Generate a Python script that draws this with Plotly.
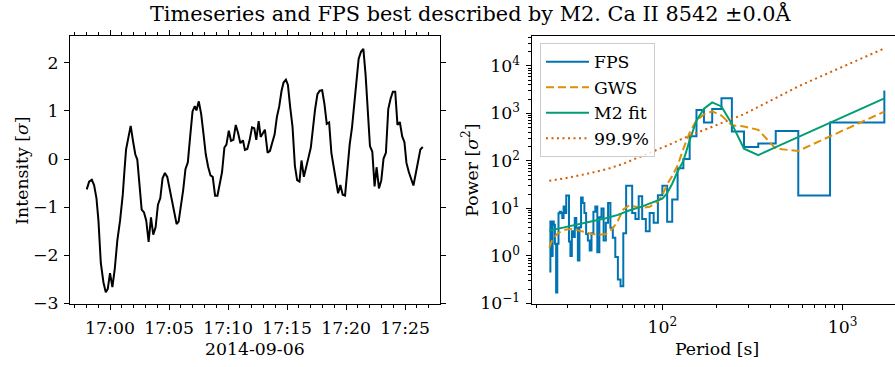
import pandas as pd
import plotly.graph_objects as go

# ---------------- data ----------------
# time series: minutes after 17:00 on 2014-09-06, intensity in sigma
time_min = [-1.97, -1.77, -1.54, -1.35, -1.15, -0.98, -0.78, -0.56, -0.36, -0.19,
            0.00, 0.20, 0.40, 0.62, 0.85, 1.08, 1.22, 1.36, 1.55, 1.75,
            1.95, 2.14, 2.31, 2.48, 2.68, 2.88, 3.07, 3.27, 3.47, 3.66,
            3.86, 4.06, 4.26, 4.45, 4.65, 4.85, 5.04, 5.24, 5.44, 5.64,
            5.81, 6.00, 6.20, 6.39, 6.59, 6.79, 6.99, 7.18, 7.32, 7.52,
            7.72, 7.91, 8.11, 8.31, 8.51, 8.70, 8.90, 9.10, 9.30, 9.49,
            9.69, 9.86, 10.06, 10.25, 10.45, 10.65, 10.85, 11.04, 11.26, 11.43,
            11.63, 11.83, 12.03, 12.22, 12.39, 12.59, 12.76, 12.93, 13.12, 13.35,
            13.55, 13.74, 13.94, 14.14, 14.33, 14.53, 14.70, 14.90, 15.07, 15.26,
            15.46, 15.66, 15.85, 16.05, 16.22, 16.42, 16.61, 16.81, 17.01, 17.18,
            17.37, 17.57, 17.77, 17.97, 18.16, 18.36, 18.56, 18.75, 18.95, 19.15,
            19.32, 19.51, 19.71, 19.91, 20.10, 20.30, 20.50, 20.69, 20.89, 21.06,
            21.26, 21.46, 21.65, 21.85, 22.02, 22.22, 22.41, 22.58, 22.78, 22.98,
            23.17, 23.37, 23.57, 23.76, 23.96, 24.16, 24.35, 24.55, 24.75, 24.94,
            25.11, 25.31, 25.51, 25.70, 25.90, 26.10, 26.29, 26.49]
intensity = [-0.63, -0.47, -0.43, -0.54, -0.81, -1.28, -2.16, -2.56, -2.77, -2.70,
             -2.37, -2.66, -2.29, -1.69, -1.28, -0.74, -0.25, 0.20, 0.44, 0.69,
             0.37, 0.10, -0.01, -0.54, -1.05, -1.11, -1.28, -1.72, -1.21, -1.57,
             -1.42, -0.95, -0.81, -0.40, -0.29, -0.37, -0.61, -0.84, -1.05, -1.35,
             -1.30, -1.01, -0.64, -0.21, -0.07, 0.47, 0.99, 1.10, 1.01, 1.20,
             0.94, 0.54, 0.10, -0.16, -0.34, -0.37, -0.76, -0.76, -0.51, -0.27,
             0.24, 0.30, 0.59, 0.38, 0.40, 0.71, 0.54, 0.33, 0.39, 0.19,
             0.21, 0.40, 0.66, 0.64, 0.40, 0.79, 0.46, 0.52, 0.61, 0.13,
             0.17, 0.34, 0.51, 0.88, 1.09, 1.42, 1.59, 1.65, 1.54, 1.08,
             0.67, -0.14, -0.44, -0.47, -0.03, -0.37, -0.20, 0.03, 0.24, 0.67,
             1.03, 1.35, 1.42, 1.43, 1.15, 0.73, 0.76, 0.13, -0.14, -0.44,
             -0.71, -0.54, -0.74, -0.76, -0.20, 0.30, 0.66, 1.13, 1.55, 2.08,
             2.23, 2.29, 1.75, 0.94, 0.27, 0.15, -0.57, -0.17, -0.61, -0.44,
             0.01, 0.13, 1.04, 1.25, 1.40, 1.40, 0.71, 0.77, 0.47, 0.35,
             -0.08, -0.27, -0.40, -0.55, -0.30, 0.00, 0.20, 0.25]

# Fourier power spectrum (period in s, power in sigma^2)
fps_period = [23.64, 23.97, 24.31, 24.67, 25.03, 25.40, 25.79, 26.18, 26.59, 27.02,
              27.45, 27.90, 28.37, 28.85, 29.34, 29.86, 30.39, 30.95, 31.52, 32.11,
              32.73, 33.37, 34.04, 34.73, 35.46, 36.21, 37.00, 37.82, 38.68, 39.58,
              40.52, 41.51, 42.55, 43.64, 44.79, 46.00, 47.28, 48.63, 50.06, 51.58,
              53.19, 54.90, 56.73, 58.69, 60.79, 63.04, 65.46, 68.08, 70.92, 74.00,
              77.36, 81.05, 85.10, 89.58, 94.56, 100.1, 106.4, 113.5, 121.6, 130.9,
              141.8, 154.7, 170.2, 189.1, 212.8, 243.1, 283.7, 340.4, 425.5, 567.3,
              851.0, 1702.0]
fps_power = [0.47, 5.3, 1.0, 5.3, 4.5, 1.8, 0.17, 1.8, 7.9, 8.5,
             8.0, 6.3, 11.0, 8.0, 18.7, 18.7, 2.0, 1.0, 3.3, 2.5,
             6.3, 3.9, 0.8, 4.0, 17.0, 13.0, 8.0, 2.9, 2.1, 1.3,
             3.0, 8.5, 11.0, 1.2, 6.5, 10.0, 2.1, 5.0, 13.0, 3.9,
             2.4, 0.95, 0.32, 0.23, 3.0, 30.0, 30.0, 8.0, 6.0, 18.0,
             6.0, 3.3, 8.0, 5.0, 19.0, 30.0, 5.2, 15.3, 70.0, 110.0,
             330.0, 1180.0, 640.0, 1236.0, 2075.0, 413.0, 197.0, 231.0, 427.0, 18.7,
             640.0, 3020.0]

# global wavelet spectrum
gws_period = [23.64, 24.31, 25.03, 26.18, 27.45, 29.34, 31.52, 34.04, 37.00, 40.52,
              44.79, 48.63, 53.19, 56.73, 60.79, 65.46, 70.92, 77.36, 85.10, 94.56,
              100.1, 106.4, 113.5, 121.6, 130.9, 141.8, 154.7, 170.2, 189.1, 212.8,
              243.1, 283.7, 340.4, 425.5, 567.3, 851.0, 1702.0]
gws_power = [1.5, 2.0, 2.4, 2.9, 3.3, 3.6, 3.7, 3.5, 3.2, 2.9,
             2.8, 2.9, 3.8, 5.5, 9.5, 11.5, 11.0, 10.3, 10.8, 14.0,
             19.0, 32.0, 48.0, 80.0, 180.0, 390.0, 710.0, 950.0, 1100.0, 900.0,
             560.0, 530.0, 450.0, 180.0, 162.0, 326.0, 1090.0]

# M2 model fit
m2_period = [23.64, 26.18, 29.34, 34.04, 40.52, 48.63, 56.73, 65.46, 77.36, 89.58,
             100.1, 106.4, 113.5, 121.6, 130.9, 141.8, 154.7, 170.2, 189.1, 212.8,
             243.1, 283.7, 340.4, 425.5, 567.3, 851.0, 1702.0]
m2_power = [3.4, 3.7, 4.0, 4.5, 5.2, 6.2, 7.3, 9.0, 11.0, 13.5,
            16.0, 21.0, 33.0, 60.0, 100.0, 270.0, 700.0, 1250.0, 1700.0, 1400.0,
            600.0, 180.0, 132.0, 195.0, 316.0, 632.0, 2075.0]

# 99.9% confidence level
sig_period = [23.64, 29.86, 40.52, 50.06, 60.79, 70.92, 81.05, 100.1, 113.5, 130.9,
              170.2, 243.1, 283.7, 425.5, 567.3, 851.0, 1702.0]
sig_power = [38.0, 44.0, 56.0, 68.0, 87.0, 110.0, 135.0, 190.0, 232.0, 300.0,
             450.0, 760.0, 960.0, 2100.0, 3700.0, 7300.0, 23300.0]

y_ticks_left = [-3, -2, -1, 0, 1, 2]
power_ticks = [0.1, 1, 10, 100, 1000, 10000]
power_ticktext = ["10<sup>\u22121</sup>", "10<sup>0</sup>", "10<sup>1</sup>",
                  "10<sup>2</sup>", "10<sup>3</sup>", "10<sup>4</sup>"]
period_ticks = [100, 1000]
period_ticktext = ["10<sup>2</sup>", "10<sup>3</sup>"]

# ---------------- figure ----------------
W, H = 895, 367
FONT = "DejaVu Serif"
FS = 17.3
t0 = pd.Timestamp("2014-09-06 17:00:00")
times = [t0 + pd.Timedelta(minutes=m) for m in time_min]

def px(x):
    return x / W

def py(y):
    return 1 - y / H

ydom = [py(312.0), py(37.3)]

fig = go.Figure()
fig.add_trace(go.Scatter(x=times, y=intensity, mode="lines",
                         line=dict(color="black", width=2),
                         showlegend=False, xaxis="x", yaxis="y"))
fig.add_trace(go.Scatter(x=fps_period, y=fps_power, mode="lines", name="FPS",
                         line=dict(color="#0173B2", width=2, shape="hv"),
                         xaxis="x2", yaxis="y2", legendgroup="a"))
fig.add_trace(go.Scatter(x=gws_period, y=gws_power, mode="lines", name="GWS",
                         line=dict(color="#DE8F05", width=2, dash="8px,4px"),
                         xaxis="x2", yaxis="y2", legendgroup="b"))
fig.add_trace(go.Scatter(x=m2_period, y=m2_power, mode="lines", name="M2 fit",
                         line=dict(color="#029E73", width=2),
                         xaxis="x2", yaxis="y2", legendgroup="c"))
fig.add_trace(go.Scatter(x=sig_period, y=sig_power, mode="lines", name="99.9%",
                         line=dict(color="#D55E00", width=2, dash="2px,3.5px"),
                         xaxis="x2", yaxis="y2", legendgroup="d"))

axcommon = dict(showline=True, linecolor="black", linewidth=1, ticks="outside",
                ticklen=5, tickwidth=1, tickcolor="black", showgrid=False,
                zeroline=False, tickfont=dict(family=FONT, size=FS, color="black"))

minor_period = [20, 30, 40, 50, 60, 70, 80, 90, 200, 300, 400, 500, 600, 700, 800, 900]
minor_power = []
for e in [0.1, 1, 10, 100, 1000, 10000]:
    for m in range(2, 10):
        minor_power.append(e * m)

fig.update_layout(
    width=W, height=H, margin=dict(l=0, r=0, t=0, b=0),
    paper_bgcolor="white", plot_bgcolor="white",
    font=dict(family=FONT, size=FS, color="black"),
    xaxis=dict(domain=[px(70), px(439.5)], anchor="y", type="date",
               range=[t0 - pd.Timedelta(seconds=203.4), t0 + pd.Timedelta(minutes=27.91)],
               tickformat="%H:%M", dtick=300000, tick0=t0, mirror="ticks",
               ticklabelstandoff=3,
               minor=dict(dtick=60000, tick0=t0, ticks="outside", ticklen=3,
                          tickcolor="black", tickwidth=1),
               **axcommon),
    yaxis=dict(domain=ydom, anchor="x", range=[-3.02, 2.55], tickvals=y_ticks_left,
               mirror="ticks", ticklabelstandoff=2, **axcommon),
    xaxis2=dict(domain=[px(531.5), 1.0], anchor="y2", type="log",
                range=[1.275, 3.290], tickvals=period_ticks, ticktext=period_ticktext,
                mirror=True, ticklabelstandoff=2,
                minor=dict(tickmode="array", tickvals=minor_period, ticks="outside",
                           ticklen=3, tickcolor="black", tickwidth=1),
                **axcommon),
    yaxis2=dict(domain=ydom, anchor="x2", type="log", range=[-1.02, 4.62],
                tickvals=power_ticks, ticktext=power_ticktext, mirror=False,
                ticklabelstandoff=2,
                minor=dict(tickmode="array", tickvals=minor_power, ticks="outside",
                           ticklen=3, tickcolor="black", tickwidth=1),
                **axcommon),
    legend=dict(x=px(540), y=py(44), xanchor="left", yanchor="top",
                bgcolor="rgba(255,255,255,0.8)", bordercolor="#cccccc", borderwidth=1,
                font=dict(family=FONT, size=FS, color="black"),
                tracegroupgap=4, traceorder="normal", itemwidth=43),
    showlegend=True,
)

annots = [
    dict(text="Timeseries and FPS best described by M2. Ca II 8542 \u00b10.0\u00c5",
         x=px(471), y=py(14), size=20.8),
    dict(text="2014-09-06", x=px(254.7), y=py(358), size=FS),
    dict(text="Period [s]", x=px(716.5), y=py(358), size=FS),
    dict(text="Intensity [<i>\u03c3</i>]", x=px(22), y=py(175), textangle=-90, size=FS),
    dict(text="Power [<i>\u03c3</i><sup>2</sup>]", x=px(470), y=py(175), textangle=-90,
         size=FS),
]
for a in annots:
    size = a.pop("size")
    fig.add_annotation(xref="paper", yref="paper", showarrow=False,
                       xanchor="center", yanchor="middle",
                       font=dict(family=FONT, color="black", size=size), **a)

fig.write_html("out.html")
